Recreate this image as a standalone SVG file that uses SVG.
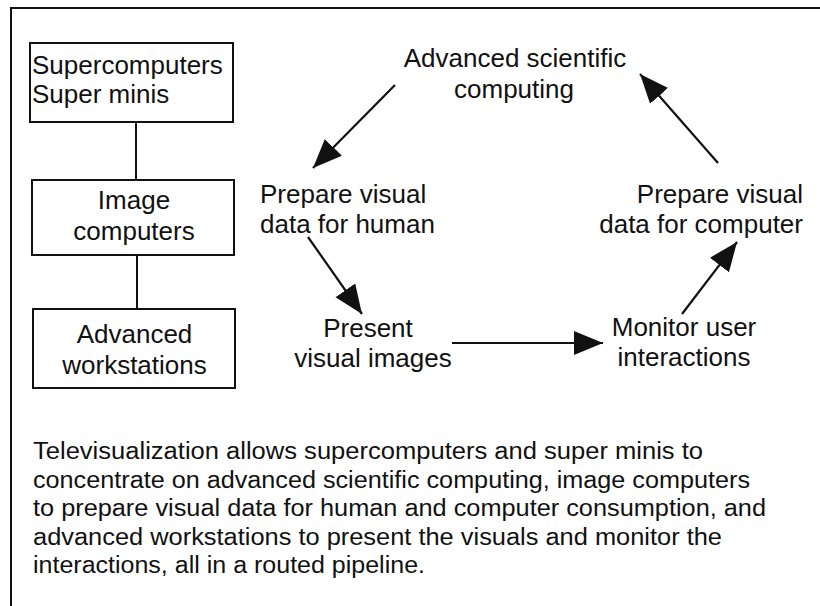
<svg xmlns="http://www.w3.org/2000/svg" width="820" height="606" viewBox="0 0 820 606">
  <style>
    .lbl { font-family: "Liberation Sans", Arial, Helvetica, sans-serif; font-size: 26px; fill: #111; }
    .para { font-family: "Liberation Sans", Arial, Helvetica, sans-serif; font-size: 23px; fill: #111; }
    .box { fill: #fff; stroke: #111; stroke-width: 2; }
    .ln { stroke: #111; stroke-width: 2; fill: none; }
    .arr { stroke: #111; stroke-width: 2.2; fill: none; marker-end: url(#head); }
    .mid { text-anchor: middle; }
    .end { text-anchor: end; }
  </style>
  <defs>
    <marker id="head" markerUnits="userSpaceOnUse" markerWidth="32" markerHeight="26" refX="29" refY="12" orient="auto" viewBox="0 0 32 26">
      <path d="M0,0 L29,12 L0,24 Z" fill="#111"/>
    </marker>
  </defs>
  <rect width="820" height="606" fill="#fff"/>

  <g id="frame">
    <line class="ln" x1="11" y1="8" x2="820" y2="8" stroke-width="2.5"/>
    <line class="ln" x1="11" y1="7" x2="11" y2="606"/>
  </g>

  <g id="connectors">
    <line class="ln" x1="136" y1="122" x2="136" y2="180"/>
    <line class="ln" x1="137" y1="255" x2="137" y2="309"/>
    <line class="arr" x1="395" y1="85" x2="313" y2="168"/>
    <line class="arr" x1="308" y1="237" x2="362" y2="314"/>
    <line class="arr" x1="452" y1="343" x2="603" y2="343"/>
    <line class="arr" x1="682" y1="314" x2="737" y2="242"/>
    <line class="arr" x1="718" y1="163" x2="640" y2="74"/>
  </g>

  <g id="supercomputers">
    <rect class="box" x="30" y="43" width="203" height="79"/>
    <text class="lbl" x="32" y="74">Supercomputers</text>
    <text class="lbl" x="32" y="103">Super minis</text>
  </g>

  <g id="image-computers">
    <rect class="box" x="32" y="180" width="202" height="75"/>
    <text class="lbl mid" x="134" y="209">Image</text>
    <text class="lbl mid" x="134" y="240">computers</text>
  </g>

  <g id="advanced-workstations">
    <rect class="box" x="33" y="309" width="202" height="79"/>
    <text class="lbl mid" x="134.5" y="343">Advanced</text>
    <text class="lbl mid" x="134.5" y="374">workstations</text>
  </g>

  <g id="advanced-scientific-computing">
    <text class="lbl mid" x="515" y="67">Advanced scientific</text>
    <text class="lbl mid" x="514" y="98">computing</text>
  </g>

  <g id="prepare-human">
    <text class="lbl" x="260" y="203">Prepare visual</text>
    <text class="lbl" x="260" y="233">data for human</text>
  </g>

  <g id="prepare-computer">
    <text class="lbl end" x="803" y="203">Prepare visual</text>
    <text class="lbl end" x="803" y="233">data for computer</text>
  </g>

  <g id="present-visual-images">
    <text class="lbl mid" x="368" y="337">Present</text>
    <text class="lbl mid" x="373" y="367">visual images</text>
  </g>

  <g id="monitor-user-interactions">
    <text class="lbl mid" x="684" y="336">Monitor user</text>
    <text class="lbl mid" x="684" y="366">interactions</text>
  </g>

  <g id="caption">
    <text class="para" x="33" y="459" textLength="670" lengthAdjust="spacingAndGlyphs">Televisualization allows supercomputers and super minis to</text>
    <text class="para" x="33" y="488" textLength="717" lengthAdjust="spacingAndGlyphs">concentrate on advanced scientific computing, image computers</text>
    <text class="para" x="33" y="516" textLength="733" lengthAdjust="spacingAndGlyphs">to prepare visual data for human and computer consumption, and</text>
    <text class="para" x="33" y="545" textLength="689" lengthAdjust="spacingAndGlyphs">advanced workstations to present the visuals and monitor the</text>
    <text class="para" x="33" y="573" textLength="392" lengthAdjust="spacingAndGlyphs">interactions, all in a routed pipeline.</text>
  </g>
</svg>
